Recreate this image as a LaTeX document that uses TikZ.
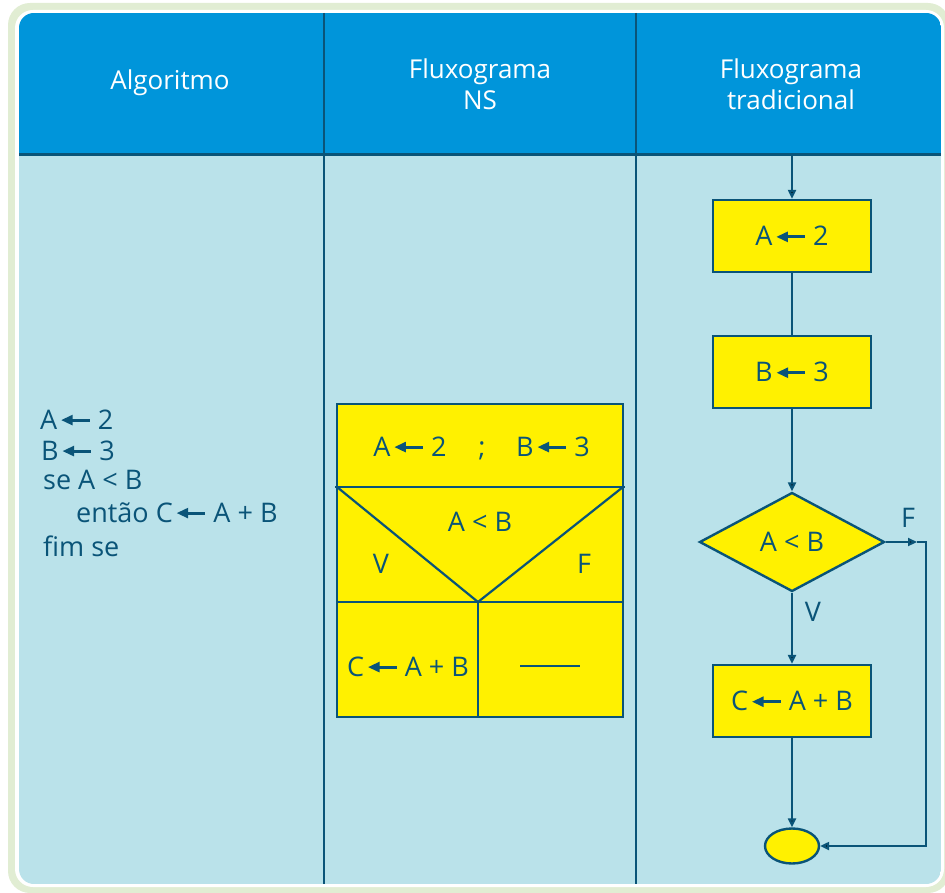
\documentclass[tikz,border=0pt]{standalone}
\usepackage{fontspec}
\setmainfont{Open Sans}
\usetikzlibrary{shapes.geometric,arrows.meta}
\definecolor{frame}{HTML}{E1EDD3}
\definecolor{head}{HTML}{0095DA}
\definecolor{bodyc}{HTML}{BAE2EA}
\definecolor{ink}{HTML}{0A5478}
\definecolor{yel}{HTML}{FFF100}
\newcommand{\bodyfont}{\fontsize{27}{32}\selectfont}
\newcommand{\headfont}{\fontsize{26}{31}\selectfont}
\newcommand{\lar}{\hspace{0.15em}\tikz[baseline=0pt]{\fill[ink] (0,0.33em) -- (0.42em,0.13em) -- (0.42em,0.53em) -- cycle; \draw[ink,line width=0.11em] (0.3em,0.33em) -- (1.05em,0.33em);}\hspace{0.25em}}
\tikzset{
  hdr/.style={text=white, font=\headfont, inner sep=0},
  txt/.style={text=ink, font=\bodyfont, inner sep=0},
  box/.style={draw=ink, fill=yel, line width=2.4pt, minimum width=158pt, minimum height=72pt, inner sep=0, font=\bodyfont, text=ink},
  dia/.style={diamond, draw=ink, fill=yel, line width=2.4pt, minimum width=185pt, minimum height=99pt, inner sep=0, font=\bodyfont, text=ink},
  ell/.style={ellipse, draw=ink, fill=yel, line width=2.4pt, minimum width=54pt, minimum height=35pt, inner sep=0},
  con/.style={draw=ink, line width=2.2pt, -{Triangle[length=9pt,width=8pt]}},
  plain/.style={draw=ink, line width=2.2pt},
  nsl/.style={draw=ink, line width=2.2pt}
}
\begin{document}
\begin{tikzpicture}[x=1pt,y=-1pt]
\useasboundingbox (0,0) rectangle (945,893);
% frame
\fill[frame, rounded corners=22pt] (8,3) rectangle (950,893);
\fill[white, rounded corners=18pt] (15,10) rectangle (944,887);
\begin{scope}
  \clip[rounded corners=15pt] (19,13) rectangle (941,884);
  \fill[bodyc] (19,13) rectangle (941,884);
  \fill[head] (19,13) rectangle (941,155);
\end{scope}
\draw[ink, line width=3pt] (19,155) -- (941,155);
\draw[ink, line width=2.5pt] (324,13) -- (324,884);
\draw[ink, line width=2.5pt] (636,13) -- (636,884);
% headers
\node[hdr, anchor=base] (h1) at (170,90) {Algoritmo};
\node[hdr, anchor=base] (h2a) at (480,79) {Fluxograma};
\node[hdr, anchor=base] (h2b) at (480,110) {NS};
\node[hdr, anchor=base] (h3a) at (791,79) {Fluxograma};
\node[hdr, anchor=base] (h3b) at (791,110) {tradicional};
% algorithm
\node[txt, anchor=base west] (l1) at (40,429) {A\lar 2};
\node[txt, anchor=base west] (l2) at (41,460) {B\lar 3};
\node[txt, anchor=base west] (l3) at (43,489) {se A < B};
\node[txt, anchor=base west] (l4) at (76,522) {então C\lar A + B};
\node[txt, anchor=base west] (l5) at (43,556) {fim se};
% NS chart
\draw[nsl, fill=yel] (337,404) rectangle (623,717);
\draw[nsl] (335,487) -- (625,487);
\draw[nsl] (337,602) -- (623,602);
\draw[nsl] (478,602) -- (478,717);
\draw[nsl, line join=miter] (337,487) -- (478,602) -- (623,487);
\node[txt, anchor=base] (n1) at (410,456) {A\lar 2};
\node[txt, anchor=base] (n2) at (482,456) {;};
\node[txt, anchor=base] (n3) at (553,456) {B\lar 3};
\node[txt, anchor=base] (n4) at (480,531) {A < B};
\node[txt, anchor=base] (n5) at (381,573) {V};
\node[txt, anchor=base] (n6) at (584,573) {F};
\node[txt, anchor=base] (n7) at (408,676) {C\lar A + B};
\draw[nsl] (520,666) -- (580,666);
% traditional chart
\coordinate (top) at (792,155);
\node[box] (b1) at (792,236) {A\lar 2};
\node[box] (b2) at (792,372) {B\lar 3};
\node[dia] (d) at (792,542) {A < B};
\node[box] (b3) at (792,701) {C\lar A + B};
\node[ell] (e) at (792,846) {};
\draw[con] (top) -- (b1);
\draw[plain] (b1) -- (b2);
\draw[con] (b2) -- (d);
\draw[con] (d) -- (b3);
\draw[con] (b3) -- (e);
\coordinate (fm) at (917,542);
\coordinate (fc) at (926,542);
\draw[con] (d.east) -- (fm);
\draw[con] (fm) -- (fc) |- (e.east);
\node[txt] (fl) at (908,518) {F};
\node[txt] (vl) at (813,612) {V};
\end{tikzpicture}
\end{document}
